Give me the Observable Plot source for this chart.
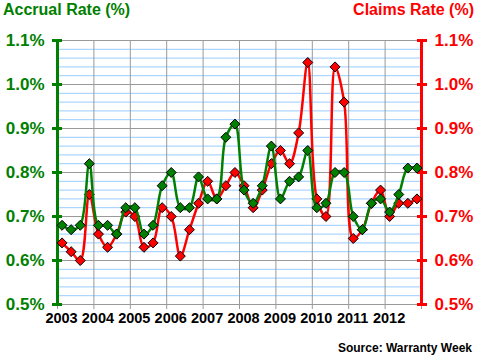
<!DOCTYPE html>
<html><head><meta charset="utf-8">
<script src="https://cdn.jsdelivr.net/npm/d3@7"></script>
<script src="https://cdn.jsdelivr.net/npm/@observablehq/plot@0.6"></script>
<style>
body{margin:0;background:#fff;font-family:"Liberation Sans",Arial,sans-serif}
#wrap{position:relative;width:480px;height:359px;overflow:hidden}
#wrap svg{position:absolute;left:0;top:0}
.t{position:absolute;font-weight:bold;white-space:nowrap;font-family:"Liberation Sans",Arial,sans-serif}
</style></head><body><div id="wrap"></div>
<script>
// Quarterly data, 2003 Q1 .. 2012 Q4
const startYear = 2003;
const accrualRate = [0.68,0.67,0.68,0.82, 0.68,0.68,0.66,0.72, 0.72,0.66,0.68,0.77, 0.80,0.72,0.72,0.79,
  0.74,0.74,0.88,0.91, 0.76,0.73,0.77,0.86, 0.74,0.78,0.79,0.85, 0.72,0.73,0.80,0.80,
  0.70,0.67,0.73,0.74, 0.71,0.75,0.81,0.81];
const claimsRate = [0.64,0.62,0.60,0.75, 0.66,0.63,0.66,0.71, 0.70,0.63,0.64,0.72, 0.70,0.61,0.67,0.73,
  0.78,0.74,0.77,0.80, 0.77,0.72,0.76,0.82, 0.85,0.82,0.89,1.05, 0.74,0.70,1.04,0.96,
  0.65,0.67,0.73,0.76, 0.70,0.73,0.73,0.74];
const yearLabels = [2003,2004,2005,2006,2007,2008,2009,2010,2011,2012];
const yearLines = [2003,2004,2005,2006,2007,2008,2009,2010,2011,2012,2013];
const majorTicks = [0.5,0.6,0.7,0.8,0.9,1.0,1.1];
const minorTicks = [0.52,0.54,0.56,0.58,0.62,0.64,0.66,0.68,0.72,0.74,0.76,0.78,0.82,0.84,0.86,0.88,0.92,0.94,0.96,0.98,1.02,1.04,1.06,1.08];

const green = "#008000", red = "#ff0000", gray = "#999999", blue = "#99ccff";
const acc = accrualRate.map((v,i) => ({t: startYear + (i+0.5)/4, v}));
const clm = claimsRate.map((v,i) => ({t: startYear + (i+0.5)/4, v}));
const fmt = d => d.toFixed(1) + "%";

const chart = Plot.plot({
  width: 480, height: 359,
  marginLeft: 57, marginRight: 59, marginTop: 40, marginBottom: 55,
  style: {background: "transparent", fontFamily: "Liberation Sans, Arial, sans-serif"},
  x: {domain: [2003, 2013], axis: null, label: null},
  y: {domain: [0.5, 1.1], axis: null, label: null},
  marks: [
    Plot.ruleY(minorTicks, {stroke: blue, strokeWidth: 1}),
    Plot.ruleY(majorTicks, {stroke: gray, strokeWidth: 1}),
    Plot.ruleX(yearLines, {stroke: gray, strokeWidth: 1}),
    Plot.axisX({ticks: yearLines, tickSize: 5, tickFormat: () => "", label: null, stroke: gray, strokeWidth: 1}),
    Plot.axisX({ticks: yearLabels, tickSize: 0, tickPadding: 8, dx: 4, tickFormat: d => String(d), label: null,
      fill: "#000", fontSize: 14.5, fontWeight: "bold"}),
    Plot.ruleX([2003], {stroke: green, strokeWidth: 3}),
    Plot.ruleX([2013], {stroke: red, strokeWidth: 3}),
    Plot.axisY({anchor: "left", ticks: majorTicks, tickSize: 10, dx: 5, tickFormat: () => "", label: null, stroke: green, strokeWidth: 3}),
    Plot.axisY({anchor: "left", ticks: majorTicks, tickSize: 0, tickPadding: 13, tickFormat: fmt, label: null,
      fill: green, fontSize: 17, fontWeight: "bold"}),
    Plot.axisY({anchor: "right", ticks: majorTicks, tickSize: 10, dx: -5, tickFormat: () => "", label: null, stroke: red, strokeWidth: 3}),
    Plot.axisY({anchor: "right", ticks: majorTicks, tickSize: 0, tickPadding: 13, tickFormat: fmt, label: null,
      fill: red, fontSize: 17, fontWeight: "bold"}),
    Plot.line(clm, {x: "t", y: "v", stroke: red, strokeWidth: 2.5, curve: "catmull-rom"}),
    Plot.dot(clm, {x: "t", y: "v", symbol: "diamond2", r: 4.5, fill: red, stroke: "#000", strokeWidth: 1}),
    Plot.line(acc, {x: "t", y: "v", stroke: green, strokeWidth: 2.5, curve: "catmull-rom"}),
    Plot.dot(acc, {x: "t", y: "v", symbol: "diamond2", r: 4.5, fill: green, stroke: "#000", strokeWidth: 1})
  ]
});
const wrap = document.getElementById("wrap");
wrap.appendChild(chart);
function addText(txt, css) {
  const d = document.createElement("div");
  d.className = "t"; d.textContent = txt;
  Object.assign(d.style, css);
  wrap.appendChild(d);
}
addText("Accrual Rate (%)", {left: "3px", top: "1px", fontSize: "16px", color: green});
addText("Claims Rate (%)", {right: "6px", top: "1px", fontSize: "16px", color: red});
addText("Source: Warranty Week", {right: "8px", top: "341px", fontSize: "12px", color: "#000"});
</script></body></html>
